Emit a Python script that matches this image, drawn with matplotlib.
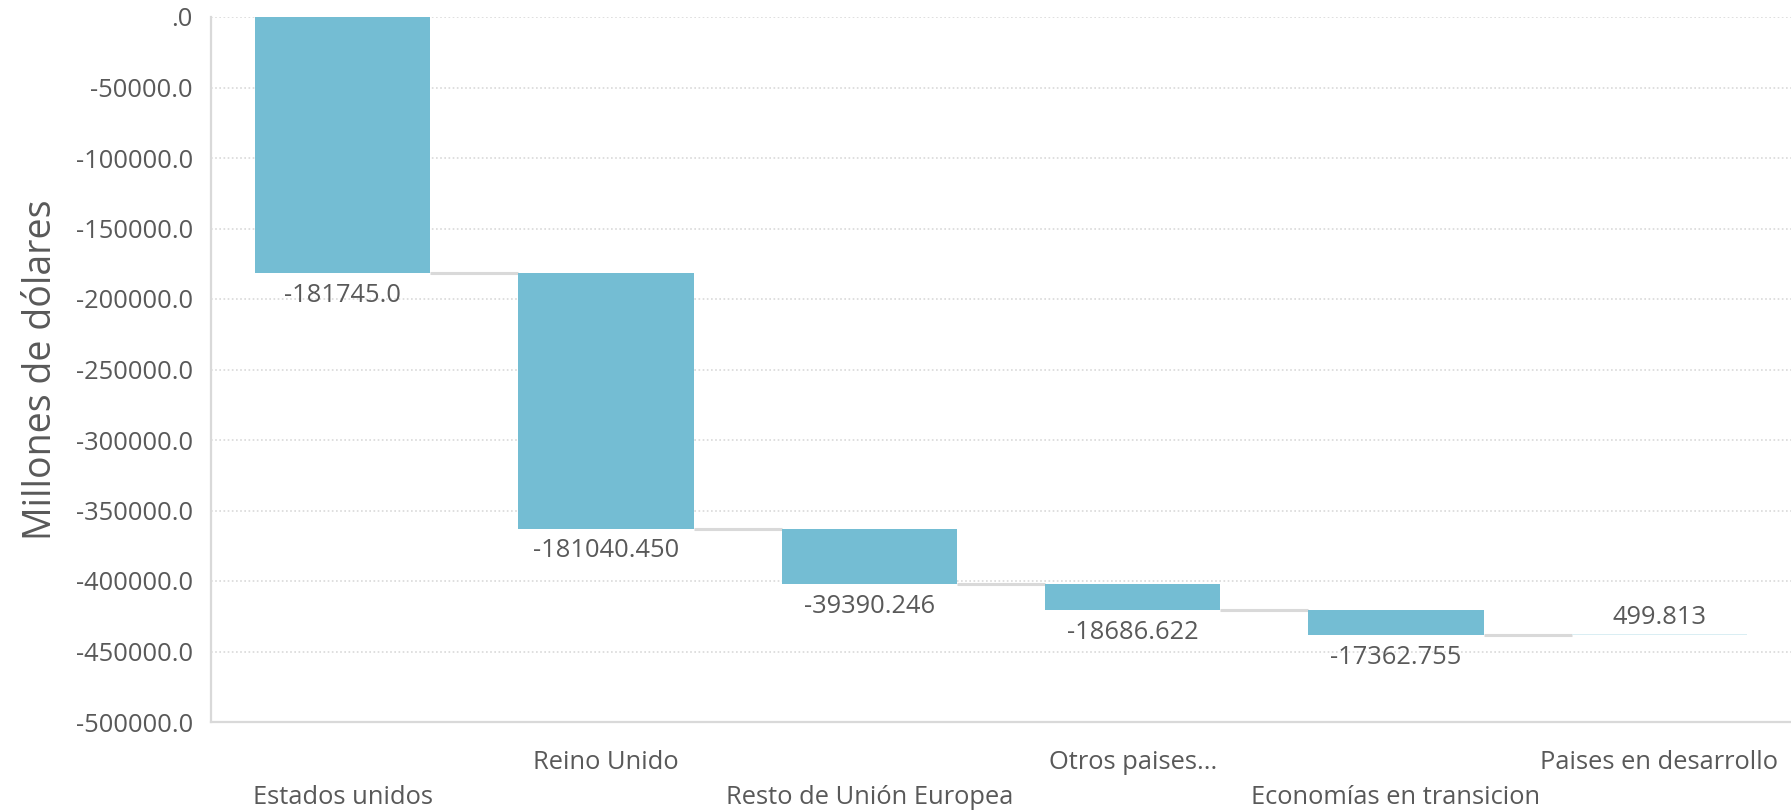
import matplotlib
matplotlib.use("Agg")
import matplotlib.pyplot as plt
from matplotlib.ticker import FuncFormatter, MultipleLocator
import numpy as np

categories = ["Estados unidos", "Reino Unido", "Resto de Unión Europea",
              "Otros paises...", "Economías en transicion", "Paises en desarrollo"]
values = [-181745.0, -181040.450, -39390.246, -18686.622, -17362.755, 499.813]
value_labels = ["-181745.0", "-181040.450", "-39390.246", "-18686.622", "-17362.755", "499.813"]
y_label = "Millones de dólares"

plt.rcParams['font.family'] = ['Open Sans', 'DejaVu Sans']
text_color = "#595959"
bar_neg = "#74BDD3"
bar_pos = "#DAEEF3"
grey = "#D9D9D9"
fs = 18.4

fig = plt.figure(figsize=(17.91, 8.11), dpi=100)
ax = fig.add_axes([211/1791, 1 - 722/811, 1 - 211/1791, (722-17)/811])

vals = np.array(values)
ends = np.cumsum(vals)
starts = ends - vals
x = np.arange(len(categories))
width = 0.667

colors = [bar_neg if v < 0 else bar_pos for v in vals]
ax.bar(x, vals, bottom=starts, width=width, color=colors, zorder=3, linewidth=0)

# connectors
for i in range(len(x) - 1):
    ax.plot([x[i] + width/2, x[i+1] - width/2], [ends[i], ends[i]],
            color=grey, lw=2.2, zorder=2, solid_capstyle='butt')

# value labels
for i, (v, lab) in enumerate(zip(vals, value_labels)):
    if v < 0:
        ax.annotate(lab, (x[i], min(starts[i], ends[i])), xytext=(0, -7),
                    textcoords='offset points', ha='center', va='top',
                    fontsize=fs, color=text_color)
    else:
        ax.annotate(lab, (x[i], max(starts[i], ends[i])), xytext=(0, 3),
                    textcoords='offset points', ha='center', va='bottom',
                    fontsize=fs, color=text_color)

ax.set_xlim(-0.5, 5.5)
ax.set_ylim(-500000, 0)
ax.yaxis.set_major_locator(MultipleLocator(50000))

def fmt(v, pos):
    s = f"{v:.1f}"
    if s in ("0.0", "-0.0"):
        return ".0"
    return s
ax.yaxis.set_major_formatter(FuncFormatter(fmt))

ax.grid(axis='y', linestyle=(0, (1, 1.5)), color=grey, lw=1.2, zorder=0)
ax.grid(axis='x', visible=False)

ax.set_xticks(x)
ax.set_xticklabels(categories)
ax.tick_params(axis='both', length=0, colors=text_color, labelsize=fs)
ax.tick_params(axis='y', pad=13)
for i, t in enumerate(ax.xaxis.get_major_ticks()):
    t.set_pad(45 if i % 2 == 0 else 20)

for s in ("top", "right"):
    ax.spines[s].set_visible(False)
for s in ("left", "bottom"):
    ax.spines[s].set_color(grey)
    ax.spines[s].set_linewidth(1.6)

ax.set_ylabel(y_label, fontsize=27, color=text_color, labelpad=11)

fig.savefig("out.png", dpi=100)
